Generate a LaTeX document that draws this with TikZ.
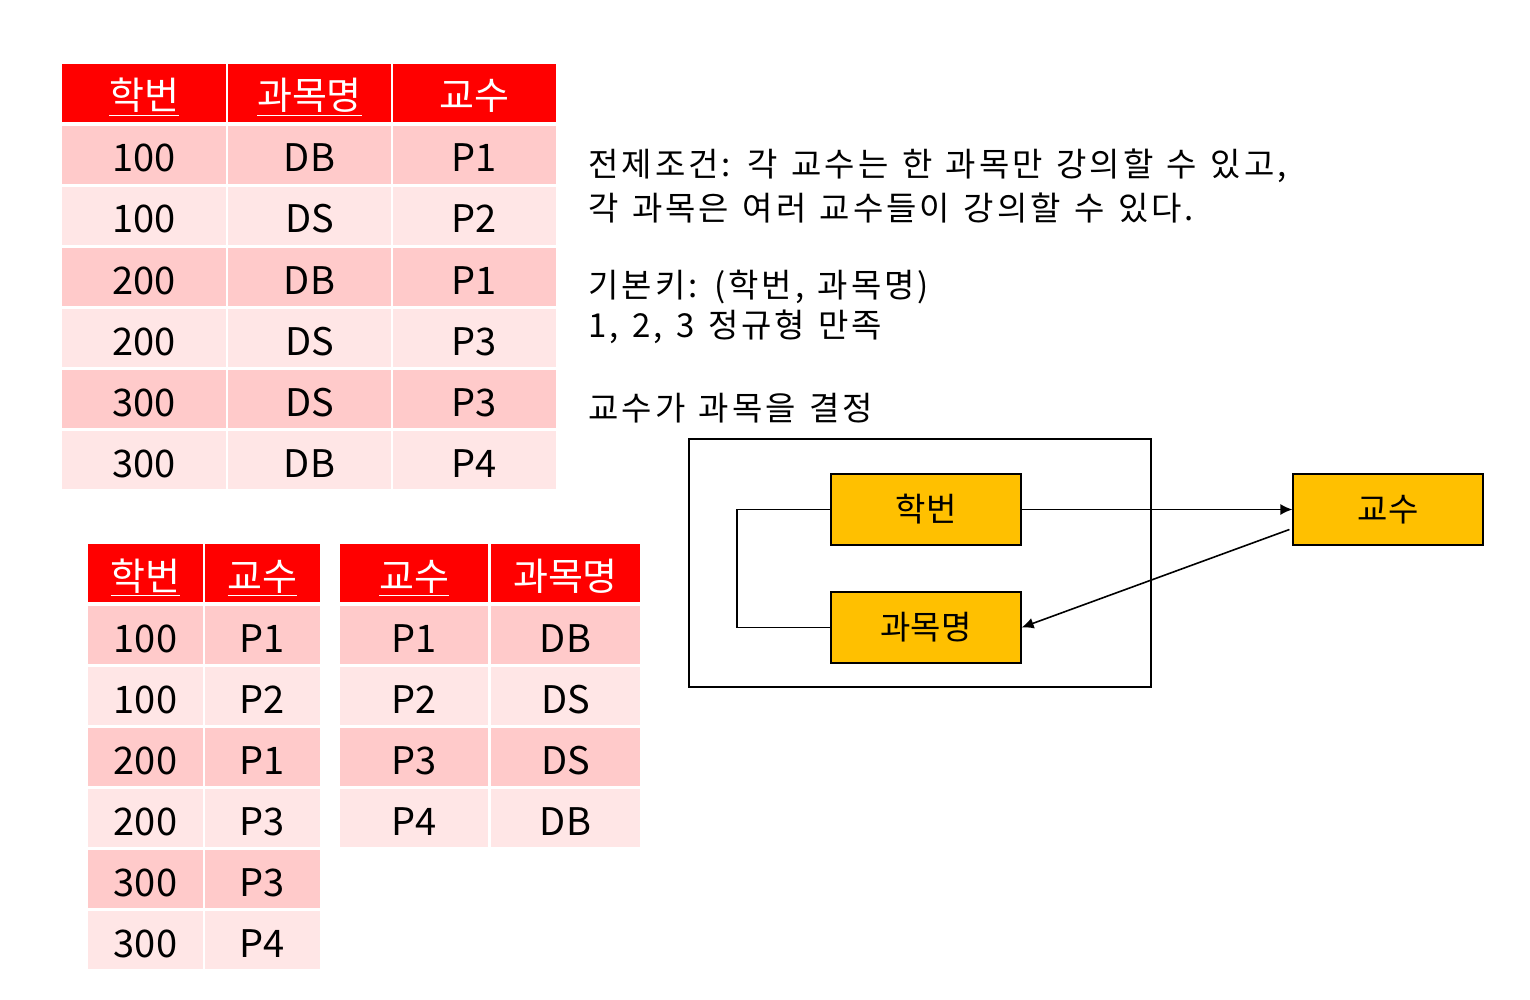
\documentclass[tikz,border=0pt]{standalone}
\usepackage{fontspec}
\setmainfont{Noto Sans CJK KR}
\newfontfamily\notefont[LetterSpace=9, WordSpace=1.3]{Noto Sans CJK KR}
\usetikzlibrary{positioning,arrows.meta}
\definecolor{hdred}{RGB}{255,0,0}
\definecolor{rowdark}{RGB}{255,202,202}
\definecolor{rowlight}{RGB}{255,230,230}
\definecolor{keyorange}{RGB}{255,192,0}
\tikzset{
  cell/.style={minimum height=29pt, inner sep=0pt, text height=17pt, text depth=0pt, font=\fontsize{19}{22}\selectfont},
  hdcell/.style={cell, fill=hdred, text=white},
  note/.style={anchor=west, inner sep=0pt, font=\notefont\fontsize{16.5}{20}\selectfont},
  keybox/.style={draw, line width=0.6pt, fill=keyorange, minimum width=95pt, minimum height=35.5pt, inner sep=0pt, font=\fontsize{16.5}{20}\selectfont},
  link/.style={line width=0.8pt},
}
\begin{document}
\begin{tikzpicture}[x=0.5pt, y=-0.5pt]
\useasboundingbox (0,0) rectangle (1530,1000);

% table 1
\node[hdcell, minimum width=82pt] (t1-h1) at (144,93) {\underline{학번}};
\node[hdcell, minimum width=81.5pt] (t1-h2) at (309.5,93) {\underline{과목명}};
\node[hdcell, minimum width=81.5pt] (t1-h3) at (474.5,93) {교수};
\foreach \a/\b/\c [count=\r] in {100/DB/P1, 100/DS/P2, 200/DB/P1, 200/DS/P3, 300/DS/P3, 300/DB/P4} {
  \ifodd\r \def\rowfill{rowdark}\else \def\rowfill{rowlight}\fi
  \node[cell, fill=\rowfill, minimum width=82pt] (t1-\r-1) at (144,{155+61*(\r-1)}) {\a};
  \node[cell, fill=\rowfill, minimum width=81.5pt] (t1-\r-2) at (309.5,{155+61*(\r-1)}) {\b};
  \node[cell, fill=\rowfill, minimum width=81.5pt] (t1-\r-3) at (474.5,{155+61*(\r-1)}) {\c};
}

% table 2
\node[hdcell, minimum width=57.5pt] (t2-h1) at (145.5,573) {\underline{학번}};
\node[hdcell, minimum width=57.5pt] (t2-h2) at (262.5,573) {\underline{교수}};
\foreach \a/\b [count=\r] in {100/P1, 100/P2, 200/P1, 200/P3, 300/P3, 300/P4} {
  \ifodd\r \def\rowfill{rowdark}\else \def\rowfill{rowlight}\fi
  \node[cell, fill=\rowfill, minimum width=57.5pt] (t2-\r-1) at (145.5,{635+61*(\r-1)}) {\a};
  \node[cell, fill=\rowfill, minimum width=57.5pt] (t2-\r-2) at (262.5,{635+61*(\r-1)}) {\b};
}

% table 3
\node[hdcell, minimum width=74pt] (t3-h1) at (414,573) {\underline{교수}};
\node[hdcell, minimum width=74.5pt] (t3-h2) at (565.5,573) {과목명};
\foreach \a/\b [count=\r] in {P1/DB, P2/DS, P3/DS, P4/DB} {
  \ifodd\r \def\rowfill{rowdark}\else \def\rowfill{rowlight}\fi
  \node[cell, fill=\rowfill, minimum width=74pt] (t3-\r-1) at (414,{635+61*(\r-1)}) {\a};
  \node[cell, fill=\rowfill, minimum width=74.5pt] (t3-\r-2) at (565.5,{635+61*(\r-1)}) {\b};
}

% notes
\node[note] (note1) at (588,166) {전제조건: 각 교수는 한 과목만 강의할 수 있고,};
\node[note] (note2) at (588,208) {각 과목은 여러 교수들이 강의할 수 있다.};
\node[note] (note3) at (588,287) {기본키: (학번, 과목명)};
\node[note] (note4) at (588,327) {1, 2, 3 정규형 만족};
\node[note] (note5) at (588,408) {교수가 과목을 결정};

% dependency diagram
\node[draw, line width=0.6pt, minimum width=231pt, minimum height=124pt, inner sep=0pt] (frame) at (920,563) {};
\node[keybox] (hakbun) at (926,509.5) {학번};
\node[keybox] (gwamok) at (926,627.5) {과목명};
\node[keybox] (gyosu) at (1388,509.5) {교수};
\coordinate (elbow) at (737,509.5);
\draw[line width=0.6pt] (hakbun.west) -- (elbow) |- (gwamok.west);
\draw[link, -{Latex[length=6pt, width=5.5pt]}] (hakbun.east) -- (gyosu.west);
\draw[link, -{Latex[length=6pt, width=5.5pt]}] ([yshift=-10pt, xshift=-1.5pt]gyosu.west) -- (gwamok.east);

\end{tikzpicture}
\end{document}
